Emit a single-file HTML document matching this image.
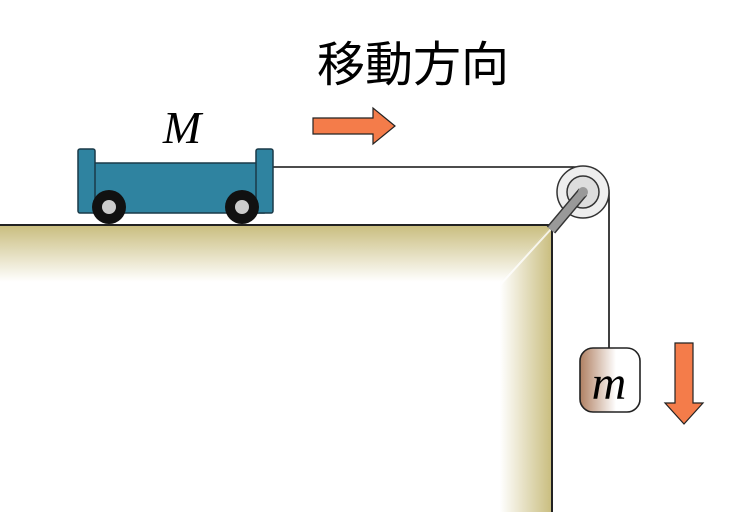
<!DOCTYPE html>
<html><head><meta charset="utf-8"><style>
html,body{margin:0;padding:0;background:#fff;width:744px;height:512px;overflow:hidden}
</style></head><body>
<svg width="744" height="512" viewBox="0 0 744 512" xmlns="http://www.w3.org/2000/svg">
<defs>
<linearGradient id="top" x1="0" y1="0" x2="0" y2="1">
<stop offset="0" stop-color="#c9bd7e"/><stop offset="1" stop-color="#c9bd7e" stop-opacity="0"/>
</linearGradient>
<linearGradient id="side" x1="1" y1="0" x2="0" y2="0">
<stop offset="0" stop-color="#c9bd7e"/><stop offset="1" stop-color="#c9bd7e" stop-opacity="0"/>
</linearGradient>
<linearGradient id="mass" x1="0" y1="0" x2="1" y2="0">
<stop offset="0" stop-color="#b08062"/><stop offset="0.6" stop-color="#fff"/><stop offset="1" stop-color="#fff"/>
</linearGradient>
</defs>
<polygon points="0,225 552,225 500,282 0,282" fill="url(#top)"/>
<polygon points="552,225 552,512 500,512 500,282" fill="url(#side)"/>
<line x1="552" y1="228" x2="500" y2="285" stroke="#fff" stroke-width="2" opacity="0.8"/>
<polyline points="0,225 552,225 552,512" fill="none" stroke="#222" stroke-width="2"/>
<path d="M273,167 H583 A26,26 0 0 1 609,193 V348" fill="none" stroke="#111" stroke-width="1.6"/>
<circle cx="583" cy="192" r="26" fill="#eee" stroke="#333" stroke-width="1.5"/>
<circle cx="583" cy="192" r="16" fill="#ddd" stroke="#333" stroke-width="1.5"/>
<line x1="583" y1="192" x2="551" y2="230" stroke="#333" stroke-width="11"/>
<line x1="583" y1="192" x2="551" y2="230" stroke="#999" stroke-width="8"/>
<circle cx="583" cy="192" r="5" fill="#999"/>
<rect x="94" y="163" width="170" height="50" fill="#2f83a0" stroke="#1a3a48" stroke-width="1.5"/>
<rect x="78" y="149" width="17" height="64" rx="2" fill="#2f83a0" stroke="#1a3a48" stroke-width="1.5"/>
<rect x="256" y="149" width="17" height="64" rx="2" fill="#2f83a0" stroke="#1a3a48" stroke-width="1.5"/>
<circle cx="109" cy="207" r="17" fill="#111"/><circle cx="109" cy="207" r="7" fill="#ccc"/>
<circle cx="242" cy="207" r="17" fill="#111"/><circle cx="242" cy="207" r="7" fill="#ccc"/>
<text x="182" y="143" font-family="Liberation Serif, serif" font-style="italic" font-size="46" text-anchor="middle">M</text>
<text x="317" y="81" font-family="Liberation Sans, Noto Sans CJK JP, sans-serif" font-size="48">移動方向</text>
<polygon points="313,118 373,118 373,108 395,126 373,144 373,134 313,134" fill="#f47c4a" stroke="#222" stroke-width="1.2"/>
<rect x="580" y="348" width="60" height="64" rx="13" fill="url(#mass)" stroke="#222" stroke-width="1.6"/>
<text x="609" y="399" font-family="Liberation Serif, serif" font-style="italic" font-size="48" text-anchor="middle">m</text>
<polygon points="675,343 693,343 693,403 703,403 684,424 665,403 675,403" fill="#f47c4a" stroke="#222" stroke-width="1.2"/>
</svg>
</body></html>
